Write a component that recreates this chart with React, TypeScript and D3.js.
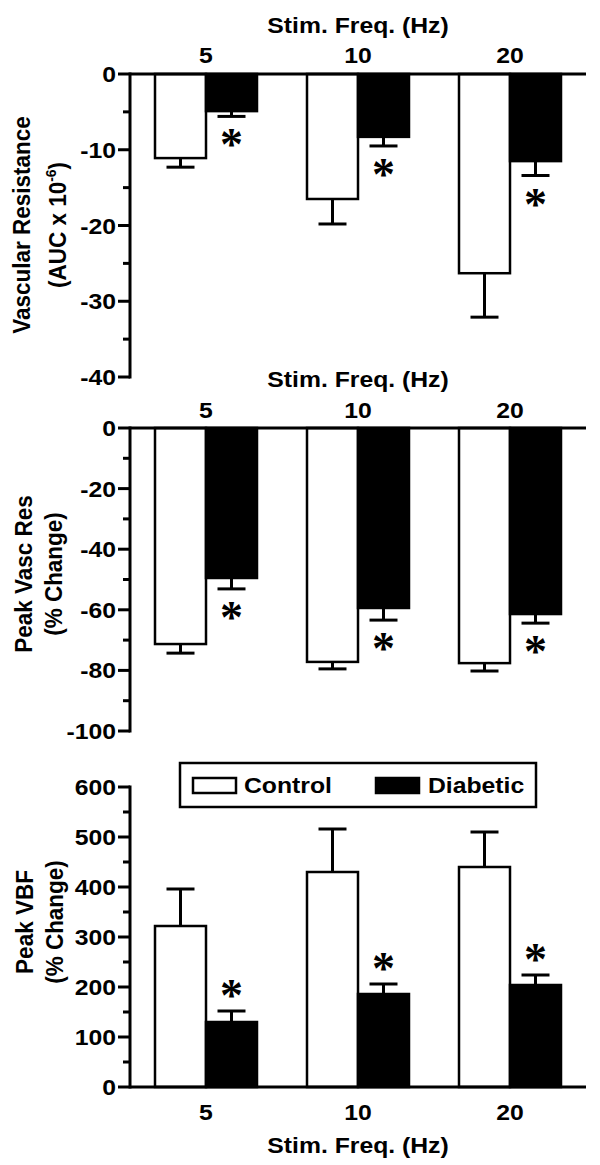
import React from "react";
import * as d3 from "d3";

const freqs = ["5", "10", "20"];

const topControl = [-11.1, -16.5, -26.3];
const topControlErr = [1.2, 3.3, 5.8];
const topDiabetic = [-4.9, -8.3, -11.5];
const topDiabeticErr = [0.7, 1.2, 1.9];

const midControl = [-71.3, -77.2, -77.6];
const midControlErr = [3.0, 2.3, 2.6];
const midDiabetic = [-49.5, -59.4, -61.4];
const midDiabeticErr = [3.6, 4.0, 3.0];

const botControl = [322, 430, 440];
const botControlErr = [74, 86, 70];
const botDiabetic = [130, 186, 204];
const botDiabeticErr = [22, 20, 20];

const topTicks = [0, -10, -20, -30, -40];
const topMinor = [-5, -15, -25, -35];
const midTicks = [0, -20, -40, -60, -80, -100];
const midMinor = [-10, -30, -50, -70, -90];
const botTicks = [0, 100, 200, 300, 400, 500, 600];
const botMinor = [50, 150, 250, 350, 450, 550];

const FONT = "'Liberation Sans', Arial, sans-serif";
const FS = 22.5;
const SX = 1.1;

const x = d3.scaleBand<string>().domain(freqs).range([130, 586]).padding(0);
const BW = 51;

function T({ x: tx, y: ty, anchor = "middle", size = FS, rot = false, children }: any) {
  const tr = rot
    ? `translate(${tx},${ty}) scale(${SX},1) rotate(-90)`
    : `translate(${tx},${ty}) scale(${SX},1)`;
  return (
    <g transform={tr}>
      <text
        x={0}
        y={0}
        textAnchor={anchor}
        fontFamily={FONT}
        fontWeight="bold"
        fontSize={size}
        fill="#000"
      >
        {children}
      </text>
    </g>
  );
}

function Star({ cx, cy }: { cx: number; cy: number }) {
  return (
    <text
      x={cx}
      y={cy + 22}
      textAnchor="middle"
      fontFamily="'Liberation Serif', 'Times New Roman', serif"
      fontWeight="bold"
      fontSize={46}
      fill="#000"
    >
      *
    </text>
  );
}

function Panel({
  y,
  ticks,
  minor,
  control,
  controlErr,
  diabetic,
  diabeticErr,
  negative,
}: any) {
  const zeroY = y(0);
  const dom = y.domain();
  const yTopEnd = y(dom[1]);
  const yBotEnd = y(dom[0]);
  const axisX = 130;
  const dir = negative ? 1 : -1;
  return (
    <g>
      {freqs.map((f, i) => {
        const c = (x(f) as number) + x.bandwidth() / 2;
        const cv = control[i];
        const dv = diabetic[i];
        const cEnd = negative ? cv - controlErr[i] : cv + controlErr[i];
        const dEnd = negative ? dv - diabeticErr[i] : dv + diabeticErr[i];
        const cx0 = c - BW;
        const dx0 = c;
        const cc = c - BW / 2;
        const dc = c + BW / 2;
        const dErrY = y(dEnd);
        return (
          <g key={f}>
            <line x1={cc} x2={cc} y1={y(cv)} y2={y(cEnd)} stroke="#000" strokeWidth={3} />
            <line x1={cc - 14} x2={cc + 14} y1={y(cEnd)} y2={y(cEnd)} stroke="#000" strokeWidth={3} />
            <line x1={dc} x2={dc} y1={y(dv)} y2={dErrY} stroke="#000" strokeWidth={3} />
            <line x1={dc - 14} x2={dc + 14} y1={dErrY} y2={dErrY} stroke="#000" strokeWidth={3} />
            <rect
              x={cx0}
              width={BW}
              y={Math.min(y(cv), zeroY)}
              height={Math.abs(y(cv) - zeroY)}
              fill="#fff"
              stroke="#000"
              strokeWidth={2.5}
            />
            <rect
              x={dx0}
              width={BW}
              y={Math.min(y(dv), zeroY)}
              height={Math.abs(y(dv) - zeroY)}
              fill="#000"
              stroke="#000"
              strokeWidth={2.5}
            />
            <Star cx={dc} cy={dErrY + dir * 22} />
          </g>
        );
      })}
      <line x1={axisX} x2={axisX} y1={Math.min(yTopEnd, yBotEnd) - 1.5} y2={Math.max(yTopEnd, yBotEnd) + 1.5} stroke="#000" strokeWidth={3} />
      {ticks.map((t: number) => (
        <g key={"t" + t}>
          <line x1={axisX - 12} x2={axisX} y1={y(t)} y2={y(t)} stroke="#000" strokeWidth={3} />
          <T x={116} y={y(t) + 8} anchor="end">
            {t}
          </T>
        </g>
      ))}
      {minor.map((t: number) => (
        <line key={"m" + t} x1={axisX - 7} x2={axisX} y1={y(t)} y2={y(t)} stroke="#000" strokeWidth={3} />
      ))}
      <line x1={axisX} x2={586} y1={zeroY} y2={zeroY} stroke="#000" strokeWidth={3} />
    </g>
  );
}

export default function App() {
  const yTop = d3.scaleLinear().domain([-40, 0]).range([377, 74]);
  const yMid = d3.scaleLinear().domain([-100, 0]).range([731, 428]);
  const yBot = d3.scaleLinear().domain([0, 600]).range([1087, 787]);

  return (
    <svg width={600} height={1165} style={{ display: "block", position: "absolute", left: 0, top: 0 }}>
      <rect width={600} height={1165} fill="#fff" />

      <T x={358} y={33}>Stim. Freq. (Hz)</T>
      {freqs.map((f) => (
        <T key={"tl" + f} x={(x(f) as number) + x.bandwidth() / 2} y={63}>
          {f}
        </T>
      ))}
      <Panel
        y={yTop}
        ticks={topTicks}
        minor={topMinor}
        control={topControl}
        controlErr={topControlErr}
        diabetic={topDiabetic}
        diabeticErr={topDiabeticErr}
        negative
      />
      <T x={30} y={225} rot>
        Vascular Resistance
      </T>
      <g transform={`translate(66,225) scale(${SX},1) rotate(-90)`}>
        <text textAnchor="middle" fontFamily={FONT} fontWeight="bold" fontSize={FS} fill="#000">
          (AUC x 10
          <tspan fontSize={14} dy={-9}>-6</tspan>
          <tspan dy={9}>)</tspan>
        </text>
      </g>

      <T x={358} y={387}>Stim. Freq. (Hz)</T>
      {freqs.map((f) => (
        <T key={"ml" + f} x={(x(f) as number) + x.bandwidth() / 2} y={418}>
          {f}
        </T>
      ))}
      <Panel
        y={yMid}
        ticks={midTicks}
        minor={midMinor}
        control={midControl}
        controlErr={midControlErr}
        diabetic={midDiabetic}
        diabeticErr={midDiabeticErr}
        negative
      />
      <T x={32} y={574} rot>
        Peak Vasc Res
      </T>
      <T x={62} y={574} rot>
        (% Change)
      </T>

      <Panel
        y={yBot}
        ticks={botTicks}
        minor={botMinor}
        control={botControl}
        controlErr={botControlErr}
        diabetic={botDiabetic}
        diabeticErr={botDiabeticErr}
        negative={false}
      />
      {freqs.map((f) => (
        <T key={"bl" + f} x={(x(f) as number) + x.bandwidth() / 2} y={1120}>
          {f}
        </T>
      ))}
      <T x={358} y={1153}>Stim. Freq. (Hz)</T>
      <T x={33} y={922} rot>
        Peak VBF
      </T>
      <T x={63} y={922} rot>
        (% Change)
      </T>

      <rect x={180} y={763} width={356} height={44} fill="#fff" stroke="#000" strokeWidth={2.5} />
      <rect x={193} y={778} width={43} height={15} fill="#fff" stroke="#000" strokeWidth={2.5} />
      <T x={244} y={793} anchor="start">Control</T>
      <rect x={376} y={778} width={43} height={15} fill="#000" stroke="#000" strokeWidth={2.5} />
      <T x={428} y={793} anchor="start">Diabetic</T>
    </svg>
  );
}
